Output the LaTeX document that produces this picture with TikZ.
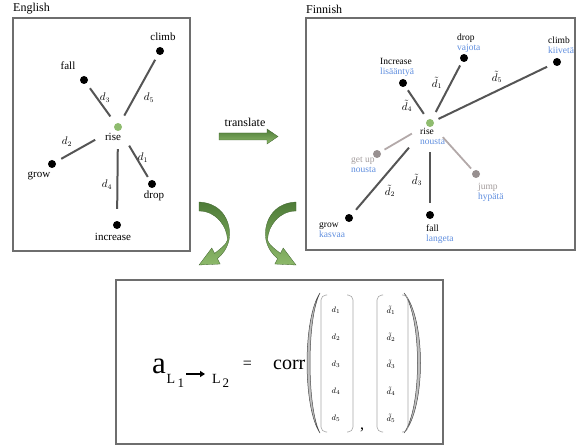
\documentclass[tikz,border=0pt]{standalone}
\usepackage{fontspec}
\setmainfont{Liberation Serif}
\usetikzlibrary{arrows.meta}
\definecolor{linkgrey}{HTML}{555555}
\definecolor{fadegrey}{HTML}{B3A9A9}
\definecolor{fadetext}{HTML}{A39C9C}
\definecolor{fiblue}{HTML}{5E8DDE}
\definecolor{risegreen}{HTML}{8FBC6F}
\definecolor{framegrey}{HTML}{6E6E6E}
\definecolor{leafdark}{HTML}{4E7B38}
\definecolor{leaflight}{HTML}{8DB96A}
\tikzset{
  word/.style={circle, fill=black, inner sep=0pt, minimum size=8pt},
  riseword/.style={word, fill=risegreen},
  fadeword/.style={word, fill=fadegrey!85!black},
  link/.style={draw=linkgrey, line width=2pt},
  fadelink/.style={draw=fadegrey, line width=1.8pt},
  boxframe/.style={draw=framegrey, line width=1.2pt},
  entxt/.style={inner sep=0pt, font=\fontsize{11}{11}\selectfont},
  fitxt/.style={inner sep=0pt, anchor=north west, align=left, font=\fontsize{9.5}{10}\selectfont},
  dlbl/.style={inner sep=0pt, font=\fontsize{10.5}{10.5}\selectfont},
  headtxt/.style={inner sep=0pt, anchor=west, font=\fontsize{12}{12}\selectfont},
  leaf/.style={top color=leafdark, bottom color=leaflight, draw=leafdark!80!black, line width=0.3pt},
  vecline/.style={draw=black!35, line width=0.6pt, rounded corners=5pt},
  paren/.style={draw=black!70, fill=black!25, line width=0.5pt},
  entry/.style={inner sep=0pt, font=\fontsize{8.5}{8.5}\selectfont},
  formula/.style={inner sep=0pt, anchor=base west},
}
\begin{document}
\begin{tikzpicture}[x=1pt, y=-1pt]
\useasboundingbox (0,0) rectangle (577,446);

\node[headtxt] (english) at (13,9) {English};
\node[headtxt] (finnish) at (306,9) {Finnish};
\draw[boxframe] (13,18) rectangle (190,251);
\draw[boxframe] (306,18) rectangle (575,250);

\node[riseword] (enrise) at (118,127) {};
\node[word] (enclimb) at (160,51) {};
\node[word] (enfall) at (84,80) {};
\node[word] (engrow) at (52,164) {};
\node[word] (endrop) at (152,184) {};
\node[word] (enincrease) at (117,225) {};
\node[entxt] (enrise-l) at (113,137) {rise};
\node[entxt] (enclimb-l) at (163,37) {climb};
\node[entxt] (enfall-l) at (68,66) {fall};
\node[entxt] (engrow-l) at (39,176) {grow};
\node[entxt] (endrop-l) at (154,196) {drop};
\node[entxt] (enincrease-l) at (113,237) {increase};
\draw[link, shorten <=8.8pt, shorten >=6pt] (enrise) -- (enfall);
\draw[link, shorten <=8.8pt, shorten >=5.8pt] (enrise) -- (enclimb);
\draw[link, shorten <=22pt, shorten >=6.4pt] (enrise) -- (engrow);
\draw[link, shorten <=17.5pt, shorten >=4pt] (enrise) -- (endrop);
\draw[link, shorten <=18pt, shorten >=12pt] (enrise) -- (enincrease);
\node[dlbl] (d1) at (143,158) {$d_1$};
\node[dlbl] (d2) at (67,142) {$d_2$};
\node[dlbl] (d3) at (105,98) {$d_3$};
\node[dlbl] (d4) at (107,185) {$d_4$};
\node[dlbl] (d5) at (149,98) {$d_5$};

\node[riseword] (firise) at (430,123) {};
\node[word] (fidrop) at (464,58) {};
\node[word] (ficlimb) at (557,62) {};
\node[word] (fiincrease) at (403,83) {};
\node[fadeword] (figetup) at (377,154) {};
\node[fadeword] (fijump) at (476,174) {};
\node[word] (figrow) at (349,218) {};
\node[word] (fifall) at (430,215) {};
\node[fitxt] (firise-l) at (420,128) {rise\\\textcolor{fiblue}{nousta}};
\node[fitxt] (fidrop-l) at (457,34) {drop\\\textcolor{fiblue}{vajota}};
\node[fitxt] (ficlimb-l) at (548,37) {climb\\\textcolor{fiblue}{kiivetä}};
\node[fitxt] (fiincrease-l) at (380,58) {Increase\\\textcolor{fiblue}{lisääntyä}};
\node[fitxt] (figetup-l) at (351,157) {\textcolor{fadetext}{get up}\\\textcolor{fiblue}{nousta}};
\node[fitxt] (fijump-l) at (478,183) {\textcolor{fadetext}{jump}\\\textcolor{fiblue}{hypätä}};
\node[fitxt] (figrow-l) at (319,222) {grow\\\textcolor{fiblue}{kasvaa}};
\node[fitxt] (fifall-l) at (426,225) {fall\\\textcolor{fiblue}{langeta}};
\draw[link, shorten <=6.8pt, shorten >=4.6pt] (firise) -- (fiincrease);
\draw[link, shorten <=8.2pt, shorten >=4.2pt] (firise) -- (fidrop);
\draw[link, shorten <=5.2pt, shorten >=6.8pt] (firise) -- (ficlimb);
\draw[fadelink, shorten <=16.8pt, shorten >=4.5pt] (firise) -- (figetup);
\draw[fadelink, shorten <=14.9pt, shorten >=3.2pt] (firise) -- (fijump);
\draw[link, shorten <=28.2pt, shorten >=6.6pt] (firise) -- (figrow);
\draw[link, shorten <=25pt, shorten >=8pt] (firise) -- (fifall);
\node[dlbl] (t1) at (437,83) {$\tilde{d}_1$};
\node[dlbl] (t2) at (390,191) {$\tilde{d}_2$};
\node[dlbl] (t3) at (417,180) {$\tilde{d}_3$};
\node[dlbl] (t4) at (407,106) {$\tilde{d}_4$};
\node[dlbl] (t5) at (497,77) {$\tilde{d}_5$};

\node[entxt, font=\fontsize{12}{12}\selectfont] (translate) at (245,122) {translate};
\path[leaf] (219,133) -- (267,133) -- (267,129) -- (278,136.5) -- (267,144) -- (267,140) -- (219,140) -- cycle;
\foreach \s/\dx in {1/0, -1/495} {
  \begin{scope}[xshift=\dx pt, xscale=\s]
    \path[leaf] (199,202) .. controls (224,203) and (232,225) .. (229,240)
      .. controls (227,249) and (222,255) .. (217.4,258.6)
      -- (220.2,264) -- (199,265) -- (211.8,248) -- (214.6,253.4)
      .. controls (220,249) and (226,245) .. (227.5,240)
      .. controls (227,226) and (216,211) .. (199,211) -- cycle;
  \end{scope}
}

\draw[boxframe] (116,280) rectangle (443,444);
\node[formula, font=\fontsize{31}{31}\selectfont] (alpha) at (152,373) {a};
\node[formula, font=\fontsize{14}{14}\selectfont] (Lone) at (166.5,383) {L};
\node[formula, font=\fontsize{13}{13}\selectfont] (one) at (177.5,387.5) {1};
\node[formula, font=\fontsize{14}{14}\selectfont] (Ltwo) at (212,383) {L};
\node[formula, font=\fontsize{13}{13}\selectfont] (two) at (222.5,387.5) {2};
\coordinate (arrfrom) at (186,374);
\coordinate (arrto) at (205,374);
\draw[line width=2pt, -{Triangle[length=5pt, width=6pt]}] (arrfrom) -- (arrto);
\node[inner sep=0pt, font=\fontsize{16}{16}\selectfont] (equals) at (247.5,365) {=};
\node[formula, font=\fontsize{20}{20}\selectfont] (corr) at (273,369) {corr};
\path[paren] (320,293) .. controls (302.7,318) and (302.7,408) .. (320,433)
  .. controls (306.7,408) and (306.7,318) .. (320,293) -- cycle;
\path[paren] (404,293) .. controls (426,318) and (426,408) .. (404,433)
  .. controls (422,408) and (422,318) .. (404,293) -- cycle;
\draw[vecline] (327,295) -- (321,295) -- (321,432) -- (327,432);
\draw[vecline] (347,295) -- (353,295) -- (353,432) -- (347,432);
\draw[vecline] (383,295) -- (377,295) -- (377,432) -- (383,432);
\draw[vecline] (402,295) -- (408,295) -- (408,432) -- (402,432);
\foreach \i in {1,...,5} {
  \node[entry] (u\i) at (336,283+27*\i) {$d_{\i}$};
  \node[entry] (v\i) at (391,283+27*\i) {$\tilde{d}_{\i}$};
}
\node[inner sep=0pt, font=\fontsize{16}{16}\selectfont] (comma) at (362,430) {,};
\end{tikzpicture}
\end{document}
